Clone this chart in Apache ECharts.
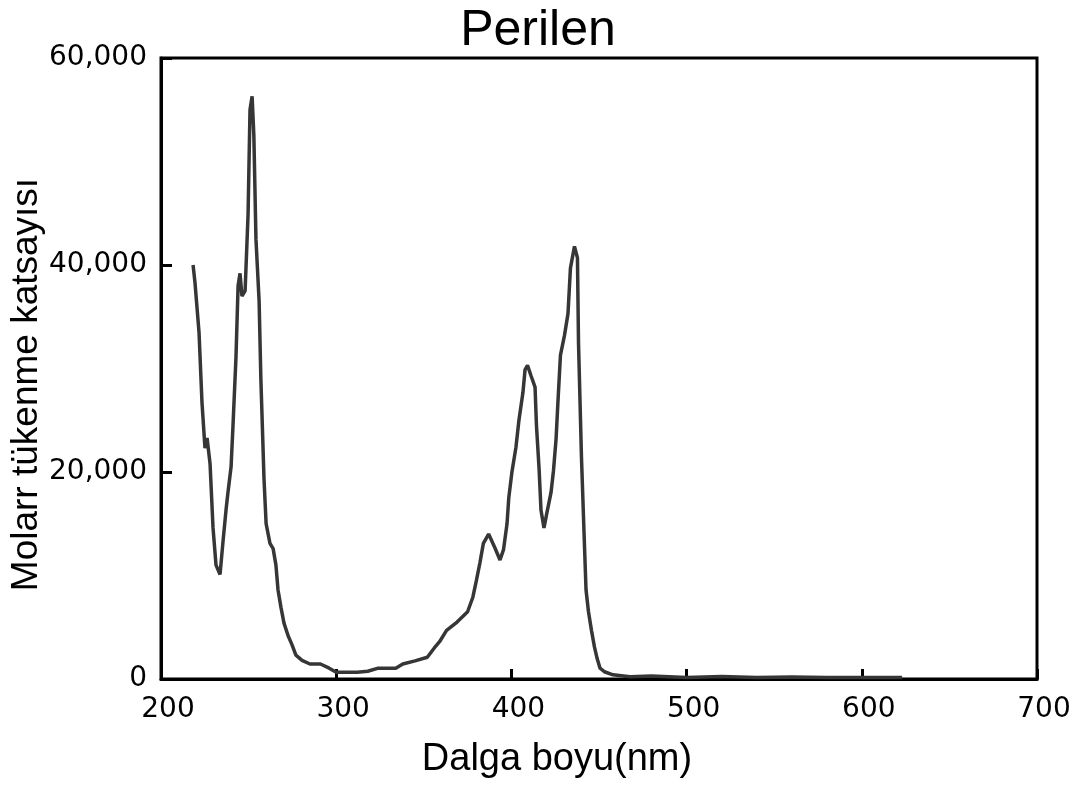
<!DOCTYPE html>
<html>
<head>
<meta charset="utf-8">
<title>Perilen</title>
<script src="https://cdn.jsdelivr.net/npm/echarts@6/dist/echarts.min.js"></script>
<style>
  html, body { margin: 0; padding: 0; background: #fff; }
  #chart { width: 1079px; height: 785px; }
</style>
</head>
<body>
<div id="chart"></div>
<script>
// Absorption spectrum of perylene: wavelength (nm) and molar extinction coefficient
const wavelengths = [
  218.3, 219.4, 221.7, 223.4, 225.1, 226.3, 228.0, 229.7, 231.4, 233.7,
  235.4, 237.1, 238.2, 240.0, 241.1, 242.8, 244.0, 245.1, 246.2, 248.0,
  249.7, 250.8, 252.0, 253.0, 254.2, 256.0, 257.0, 258.8, 260.0, 262.2,
  264.0, 265.6, 266.8, 268.5, 270.2, 272.5, 274.8, 277.0, 280.5, 285.0,
  291.0, 296.0, 300.0, 312.0, 318.0, 324.0, 334.0, 338.0, 345.0, 352.0,
  356.0, 359.0, 363.0, 369.0, 375.0, 378.0, 380.0, 382.0, 384.0, 387.0,
  390.5, 393.5, 395.5, 397.5, 398.5, 400.3, 402.6, 404.3, 406.6, 407.8,
  409.2, 411.2, 413.5, 414.3, 415.8, 416.9, 418.6, 420.3, 422.6, 424.0,
  425.5, 426.6, 428.0, 430.3, 432.3, 433.7, 436.0, 437.7, 438.3, 440.0,
  441.4, 442.6, 444.0, 445.7, 447.4, 448.9, 450.6, 453.1, 458.0, 467.7,
  480.0, 500.0, 520.0, 540.0, 560.0, 580.0, 600.0, 623.0
];
const extinction = [
  40000, 38300, 33500, 26700, 22300, 23300, 20800, 14600, 11000, 10100,
  13300, 16300, 18000, 20500, 24500, 31100, 38000, 39200, 37000, 37500,
  44900, 55000, 56300, 52500, 42500, 36500, 29000, 19300, 15000, 13100,
  12600, 11000, 8600, 6900, 5400, 4200, 3300, 2300, 1800, 1450,
  1450, 1050, 650, 650, 750, 1050, 1050, 1450, 1750, 2100,
  3000, 3600, 4700, 5500, 6500, 7900, 9500, 11200, 13100, 14000,
  12700, 11500, 12500, 15000, 17500, 20000, 22400, 25000, 27700, 29900,
  30300, 29300, 28200, 24500, 20300, 16300, 14600, 16100, 18000, 20100,
  23200, 26900, 31300, 33200, 35300, 39700, 41800, 40700, 32500, 21400,
  14400, 8600, 6500, 4700, 3100, 2000, 1050, 700, 400, 220,
  300, 150, 250, 150, 200, 150, 150, 150
];

const chartTitle = 'Perilen';
const xAxisTitle = 'Dalga boyu(nm)';
const yAxisTitle = 'Molarr tükenme katsayısı';

const chart = echarts.init(document.getElementById('chart'));

const sansFamily = '"Liberation Sans", Arial, sans-serif';
const tickFont = { fontFamily: '"DejaVu Sans", sans-serif', fontSize: 28, color: '#000' };

chart.setOption({
  animation: false,
  backgroundColor: '#fff',
  title: {
    text: chartTitle,
    left: 533,
    textAlign: 'center',
    top: 1,
    textStyle: { fontFamily: sansFamily, fontSize: 50, fontWeight: 'normal', color: '#000' }
  },
  grid: {
    left: 161, right: 42, top: 58, bottom: 106,
    outerBoundsMode: 'none',
    containLabel: false,
    show: true, borderColor: '#000', borderWidth: 3, backgroundColor: 'transparent'
  },
  xAxis: {
    type: 'value',
    min: 200, max: 700, interval: 100,
    name: xAxisTitle,
    nameLocation: 'middle',
    nameGap: 62,
    nameMoveOverlap: false,
    nameTextStyle: {
      fontFamily: sansFamily, fontSize: 38, color: '#000',
      padding: [0, 84, 0, 0]
    },
    axisLine: { lineStyle: { color: '#000', width: 3 } },
    axisTick: { inside: true, length: 10, lineStyle: { color: '#000', width: 3 } },
    axisLabel: Object.assign({ margin: 17, padding: [0, 0, 0, 14] }, tickFont),
    splitLine: { show: false }
  },
  yAxis: {
    type: 'value',
    min: 0, max: 60000, interval: 20000,
    name: yAxisTitle,
    nameLocation: 'middle',
    nameGap: 116,
    nameMoveOverlap: false,
    nameRotate: 90,
    nameTextStyle: {
      fontFamily: sansFamily, fontSize: 37, color: '#000',
      padding: [0, 32, 0, 0]
    },
    axisLine: { lineStyle: { color: '#000', width: 3 } },
    axisTick: { inside: true, length: 11, lineStyle: { color: '#000', width: 3 } },
    axisLabel: Object.assign({
      margin: 14,
      formatter: v => v.toLocaleString('en-US')
    }, tickFont),
    splitLine: { show: false }
  },
  series: [{
    type: 'line',
    data: wavelengths.map((w, i) => [w, extinction[i]]),
    showSymbol: false,
    smooth: false,
    lineStyle: { color: '#363636', width: 3.5 },
    silent: true
  }]
});
</script>
</body>
</html>
